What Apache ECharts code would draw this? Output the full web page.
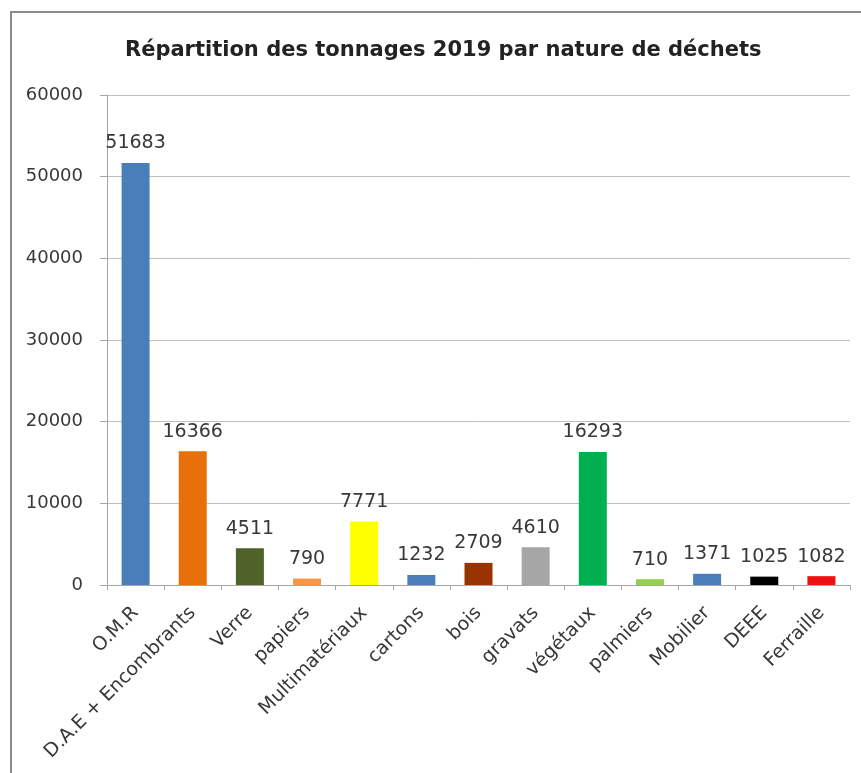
<!DOCTYPE html>
<html>
<head>
<meta charset="utf-8">
<script src="https://cdn.jsdelivr.net/npm/echarts@6/dist/echarts.min.js"></script>
<style>
  html, body { margin: 0; padding: 0; background: #ffffff; }
  #chart { width: 861px; height: 773px; }
</style>
</head>
<body>
<div id="chart"></div>
<script>
// Tonnages 2019 by waste type
const categories = ['O.M.R', 'D.A.E + Encombrants', 'Verre', 'papiers', 'Multimatériaux', 'cartons',
  'bois', 'gravats', 'végétaux', 'palmiers', 'Mobilier', 'DEEE', 'Ferraille'];
const tonnages = [51683, 16366, 4511, 790, 7771, 1232, 2709, 4610, 16293, 710, 1371, 1025, 1082];
const barColors = ['#4a7ebb', '#e8700a', '#4f6228', '#f79646', '#ffff00', '#4a7ebb',
  '#993300', '#a6a6a6', '#00b050', '#92d050', '#4a7ebb', '#000000', '#ee1111'];
const yTicks = [0, 10000, 20000, 30000, 40000, 50000, 60000];

const FONT = 'DejaVu Sans';
const chart = echarts.init(document.getElementById('chart'));
chart.setOption({
  animation: false,
  backgroundColor: '#ffffff',
  title: {
    text: 'Répartition des tonnages 2019 par nature de déchets',
    left: 120,
    top: 35,
    textStyle: { fontFamily: FONT, fontSize: 21, fontWeight: 'bold', color: '#222222' }
  },
  graphic: [{
    type: 'rect',
    shape: { x: 11, y: 12, width: 860, height: 780 },
    style: { fill: 'none', stroke: '#8c8c8c', lineWidth: 2 },
    silent: true
  }],
  grid: { left: 107, right: 11, top: 95, bottom: 188, containLabel: false },
  xAxis: {
    type: 'category',
    data: categories,
    axisLine: { lineStyle: { color: '#a6a6a6', width: 1 } },
    axisTick: { show: true, length: 5, lineStyle: { color: '#a6a6a6' } },
    axisLabel: {
      rotate: 45, interval: 0, margin: 25,
      fontFamily: FONT, fontSize: 19, color: '#383838'
    }
  },
  yAxis: {
    type: 'value',
    min: yTicks[0],
    max: yTicks[yTicks.length - 1],
    interval: yTicks[1] - yTicks[0],
    axisLine: { show: true, lineStyle: { color: '#a6a6a6' } },
    axisTick: { show: true, length: 7, lineStyle: { color: '#a6a6a6' } },
    axisLabel: {
      fontFamily: FONT, fontSize: 18, color: '#383838', margin: 24,
      formatter: (v) => String(v)
    },
    splitLine: { lineStyle: { color: '#bfbfbf', width: 1 } }
  },
  series: [{
    type: 'bar',
    data: tonnages.map((v, i) => ({ value: v, itemStyle: { color: barColors[i] } })),
    barWidth: '49%',
    label: {
      show: true, position: 'top', distance: 10,
      fontFamily: FONT, fontSize: 19, color: '#383838'
    }
  }]
});
</script>
</body>
</html>
